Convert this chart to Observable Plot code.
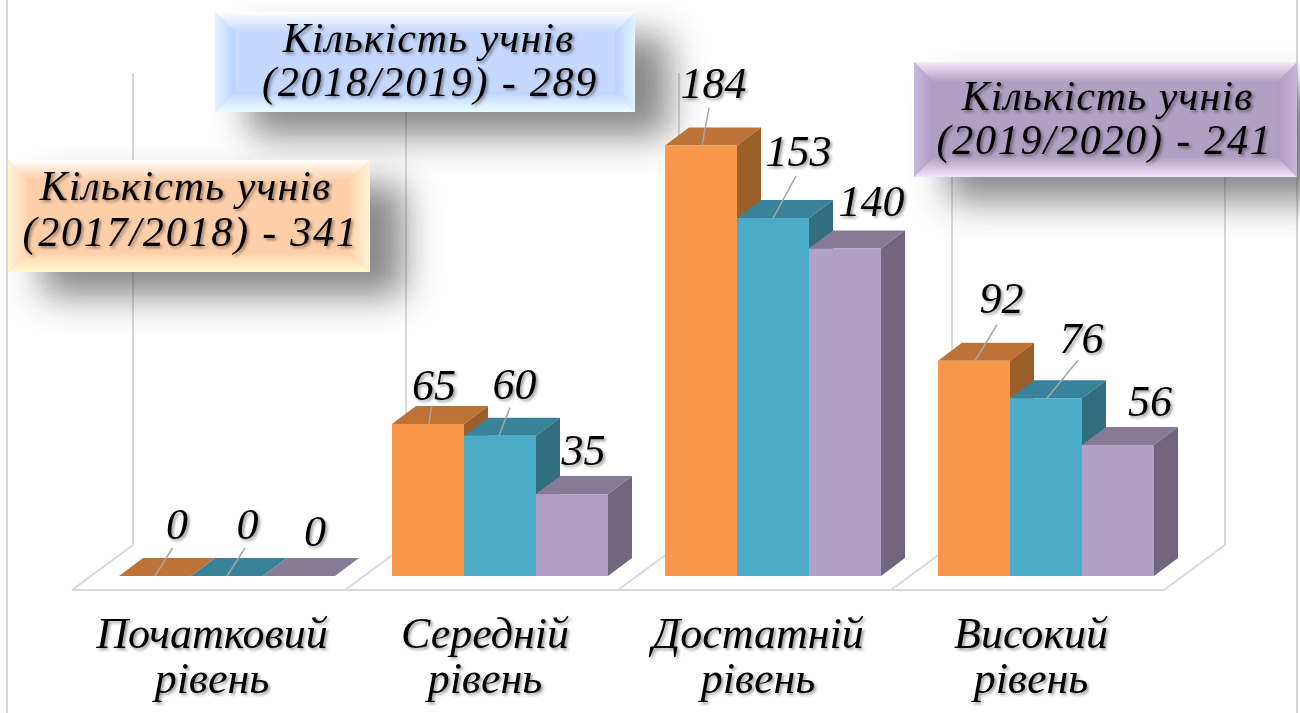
<!DOCTYPE html>
<html lang="uk">
<head>
<meta charset="utf-8">
<script src="https://cdn.jsdelivr.net/npm/d3@7"></script>
<script src="https://cdn.jsdelivr.net/npm/@observablehq/plot@0.6"></script>
<style>
html,body{margin:0;padding:0;background:#fff;overflow:hidden}
svg text{filter:drop-shadow(2px 2px 1.5px rgba(0,0,0,.4))}
</style>
</head>
<body>
<div id="chart"></div>
<script>
const levels = ["Початковий\nрівень", "Середній\nрівень", "Достатній\nрівень", "Високий\nрівень"];
const years = ["2017/2018", "2018/2019", "2019/2020"];
const values2017 = [0, 65, 184, 92];
const values2018 = [0, 60, 153, 76];
const values2019 = [0, 35, 140, 56];
const seriesValues = [values2017, values2018, values2019];
const boxHeading = "Кількість учнів";
const boxTotals = ["(2017/2018) - 341", "(2018/2019) - 289", "(2019/2020) - 241"];

// styling, separate from the data
const front = {"2017/2018":"#F9984A","2018/2019":"#4AACC6","2019/2020":"#B2A1C7"};
const top3d = {"2017/2018":"#BD7335","2018/2019":"#38839A","2019/2020":"#877A96"};
const side3d = {"2017/2018":"#9C5F2A","2018/2019":"#316F80","2019/2020":"#72667F"};
const DX = 24, DY = 18;
// [text dx, text dy, leader start dx, leader end dx, leader end dy]
const nudges = [
  [[21.5,-52,0,17.5,-28],[20,-52,0,18,-28],[15.5,-45]],
  [[5.5,-39,1,3.5,-17],[14,-51.6,-1,10,-28],[11,-44]],
  [[12,-62,1,8,-38],[25,-67,0,23,-42],[26,-47]],
  [[27,-62,1,23,-36],[35,-60,1,32,-38],[31.5,-44]]
];
const boxLayout = [
  {x:8,y:160,w:362,h:112,x1:185,y1:186,x2:190,y2:232,shade:"#FFCFA9",topA:"#FFFFFF",botA:"#FFCFA9",botB:"#FFFACF",sideA:"#FFF4D8",sideB:"#FFD3AF"},
  {x:215,y:12,w:420,h:100,x1:428,y1:38,x2:429.5,y2:82,shade:"#C5D8FE",topA:"#FFFFFF",botA:"#BDD4FF",botB:"#EBFFFF",sideA:"#E6F3FF",sideB:"#B8D2FF"},
  {x:914,y:62,w:383,h:115,x1:1107,y1:96,x2:1104,y2:140,shade:"#B0A0C3",topA:"#F6E8FF",botA:"#B0A0C3",botB:"#F3E4FF",sideA:"#C9B6DC",sideB:"#AD9CC2"}
];

const rows = levels.flatMap((level, i) => years.map((year, s) => ({
  level, year, value: seriesValues[s][i], nudge: nudges[i][s]
})));

const svgNS = "http://www.w3.org/2000/svg";
const el = (name, attrs, parent) => {
  const e = document.createElementNS(svgNS, name);
  for (const k in attrs) e.setAttribute(k, attrs[k]);
  if (parent) parent.appendChild(e);
  return e;
};
const poly = (pts, fill, parent) => el("polygon", {points: pts.map(p => p.join(",")).join(" "), fill}, parent);

function bars3d(I, scales, values, dims, ctx) {
  const g = el("g", {});
  const w = scales.x(years[1]) - scales.x(years[0]);
  for (const i of I) {
    const d = rows[i], x = scales.x(d.year), y0 = scales.y(0), y1 = scales.y(d.value);
    poly([[x,y1],[x+DX,y1-DY],[x+w+DX,y1-DY],[x+w,y1]], top3d[d.year], g);
    if (d.value > 0) {
      poly([[x+w,y1],[x+w+DX,y1-DY],[x+w+DX,y0-DY],[x+w,y0]], side3d[d.year], g);
      el("rect", {x, y:y1, width:w, height:y0-y1, fill:front[d.year]}, g);
    }
    const n = d.nudge;
    if (n.length > 2) {
      const cx = x + w/2;
      el("line", {x1:cx+n[2], y1, x2:cx+n[3], y2:y1+n[4], stroke:"#A6A6A6", "stroke-width":1.5}, g);
    }
  }
  return g;
}

function walls(I, scales, values, dims) {
  const g = el("g", {fill:"none", stroke:"#D9D9D9", "stroke-width":2});
  const starts = levels.map(l => scales.fx(l));
  const step = starts[1] - starts[0];
  const xs = [...starts, starts[3] + step].map(x => x + 15);
  const yTop = scales.y(215), yBack = scales.y(0) - 31, yFront = scales.y(0) + 14, run = 61;
  el("line", {x1:7, x2:7, y1:0, y2:dims.height}, g);
  el("line", {x1:1297, x2:1297, y1:0, y2:dims.height}, g);
  xs.forEach((x, i) => {
    el("line", {x1:x, x2:x, y1:yTop, y2:yBack}, g);
    el("line", {x1:x, x2:x-run, y1:yBack, y2:yFront}, g);
  });
  el("line", {x1:xs[0]-run, x2:xs[4]-run, y1:yFront, y2:yFront}, g);
  return g;
}

function labelBoxes() {
  const g = el("g", {});
  const defs = el("defs", {}, g);
  const blur = el("filter", {id:"bb", x:"-30%", y:"-60%", width:"160%", height:"220%"}, defs);
  el("feGaussianBlur", {stdDeviation:18}, blur);
  const grad = (id, a, b, vertical) => {
    const lg = el("linearGradient", vertical ? {id,x1:0,y1:0,x2:0,y2:1} : {id,x1:0,y1:0,x2:1,y2:0}, defs);
    el("stop", {offset:0,"stop-color":a}, lg);
    el("stop", {offset:1,"stop-color":b}, lg);
    return `url(#${id})`;
  };
  boxLayout.forEach(b => {
    el("rect", {x:b.x+34, y:b.y+24, width:b.w, height:b.h, fill:"#333", opacity:.58, filter:"url(#bb)"}, g);
  });
  boxLayout.forEach((b, k) => {
    const {x, y, w, h} = b, e = 20;
    const tl=[x,y], tr=[x+w,y], br=[x+w,y+h], bl=[x,y+h];
    const itl=[x+e,y+e], itr=[x+w-e,y+e], ibr=[x+w-e,y+h-e], ibl=[x+e,y+h-e];
    el("rect", {x, y, width:w, height:h, fill:b.shade}, g);
    poly([tl,itl,ibl,bl], grad(`l${k}`, b.sideA, b.sideB, false), g);
    poly([tr,itr,ibr,br], grad(`r${k}`, b.sideB, b.sideA, false), g);
    poly([tl,tr,itr,itl], grad(`t${k}`, b.topA, b.shade, true), g);
    poly([bl,br,ibr,ibl], grad(`b${k}`, b.botA, b.botB, true), g);
  });
  return g;
}

const M = {top:73, right:145, bottom:137, left:118};
const spaced = px => (I, s, v, d, c, next) => {
  const g = next(I, s, v, d, c);
  g.style.letterSpacing = px + "px";
  return g;
};
const boxLine = (text, x, y, spacing) => Plot.text([text], {
  facet: "super", frameAnchor: "top-left", text: d => d,
  dx: x - M.left, dy: y - M.top, fontSize: 42, lineAnchor: "middle",
  textAnchor: "middle", fill: "#000", render: spaced(spacing)
});
const chart = Plot.plot({
  width: 1300,
  height: 713,
  marginTop: M.top, marginRight: M.right, marginBottom: M.bottom, marginLeft: M.left,
  style: {fontFamily: "'Liberation Serif', serif", fontStyle: "italic", background: "#fff", color:"#000"},
  fx: {domain: levels, paddingInner: 0.2048, paddingOuter: 0, label: null},
  x: {domain: years, padding: 0, axis: null, label: null},
  y: {domain: [0, 215], axis: null, label: null},
  marks: [
    Plot.frame({facet: "super", stroke: "none", render: walls}),
    Plot.frame({facet: "super", stroke: "none", render: labelBoxes}),
    Plot.barY(rows, {fx: "level", x: "year", y: "value", render: bars3d}),
    ...rows.map(d => Plot.text([d], {
      fx: "level", x: "year", y: "value", text: d => String(d.value),
      dx: d.nudge[0], dy: d.nudge[1], fontSize: 44, fill: "#000"
    })),
    ...boxLayout.flatMap((b, k) => [
      boxLine(boxHeading, b.x1, b.y1, 1),
      boxLine(boxTotals[k], b.x2, b.y2, 1.8)
    ]),
    Plot.axisFx({anchor: "bottom", tickSize: 0, tickPadding: 39, dx: -15, fontSize: 44, lineHeight: 1.03, label: null, fill:"#000"})
  ]
});
document.getElementById("chart").appendChild(chart);
</script>
</body>
</html>
